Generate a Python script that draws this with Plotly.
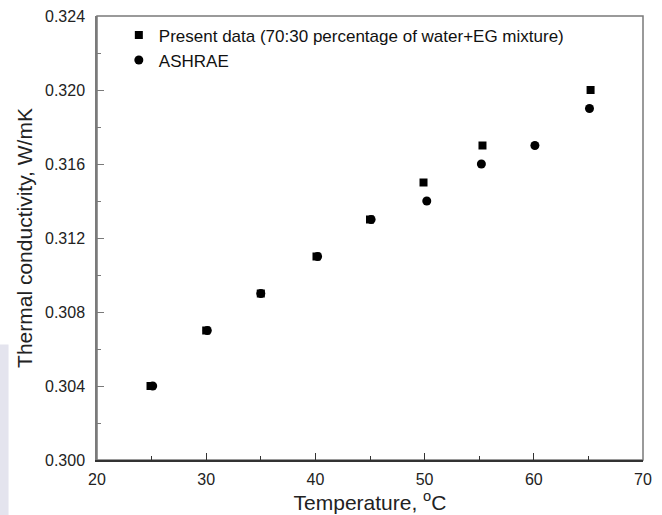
import plotly.graph_objects as go

present_temp = [24.9, 30.0, 35.0, 40.1, 45.0, 49.9, 55.3, 65.2]
present_k = [0.304, 0.307, 0.309, 0.311, 0.313, 0.315, 0.317, 0.320]
ashrae_temp = [25.1, 30.1, 35.0, 40.2, 45.1, 50.2, 55.2, 60.1, 65.1]
ashrae_k = [0.304, 0.307, 0.309, 0.311, 0.313, 0.314, 0.316, 0.317, 0.319]

x_ticks = [20, 30, 40, 50, 60, 70]
y_ticks = [0.300, 0.304, 0.308, 0.312, 0.316, 0.320, 0.324]
y_tick_text = ["0.300", "0.304", "0.308", "0.312", "0.316", "0.320", "0.324"]

fig = go.Figure()
fig.add_trace(go.Scatter(x=present_temp, y=present_k, mode="markers",
                         name="Present data (70:30 percentage of water+EG mixture)",
                         marker=dict(symbol="square", size=8, color="black")))
fig.add_trace(go.Scatter(x=ashrae_temp, y=ashrae_k, mode="markers", name="ASHRAE",
                         marker=dict(symbol="circle", size=9, color="black")))

gray = "#7a7a7a"
dark = "#333333"
fig.add_shape(type="rect", xref="paper", yref="paper", x0=0, x1=1, y0=0, y1=1,
              line=dict(color=gray, width=1.5), layer="below")
# faint scan artifact at left edge
fig.add_shape(type="rect", xref="paper", yref="paper", x0=-0.178, x1=-0.162, y0=-0.13, y1=0.26,
              line=dict(width=0), fillcolor="#e4e4ee", layer="below")

fig.update_layout(
    width=662, height=515,
    margin=dict(l=97, r=19, t=16, b=55, autoexpand=False),
    paper_bgcolor="white", plot_bgcolor="white",
    font=dict(family="Liberation Sans, Arial", size=16, color="#222"),
    showlegend=True,
    legend=dict(x=0.04, y=0.997, xanchor="left", yanchor="top",
                bgcolor="rgba(0,0,0,0)", font=dict(size=17, color="#111"),
                itemwidth=30, tracegroupgap=0),
    xaxis=dict(range=[20, 70], tickvals=x_ticks, ticks="inside", ticklen=7,
               tickcolor=dark, linecolor=dark, showline=True, linewidth=1.5,
               showgrid=False, zeroline=False, automargin=False,
               minor=dict(dtick=5, ticks="inside", ticklen=4, tickcolor=dark),
               title=dict(text="Temperature, <sup>o</sup>C", font=dict(size=21), standoff=6),
               tickfont=dict(size=16), ticklabelstandoff=4),
    yaxis=dict(range=[0.300, 0.324], tickvals=y_ticks, ticktext=y_tick_text,
               ticks="inside", ticklen=7, tickcolor=gray, linecolor=gray,
               showline=True, linewidth=1.5, showgrid=False, zeroline=False,
               automargin=False,
               minor=dict(dtick=0.002, ticks="inside", ticklen=4, tickcolor=gray),
               title=dict(text="Thermal conductivity, W/mK", font=dict(size=21), standoff=7),
               tickfont=dict(size=16), ticklabelstandoff=7),
)

fig.write_html("out.html", config={"displayModeBar": False},
               post_script="document.body.style.margin='0px';")
